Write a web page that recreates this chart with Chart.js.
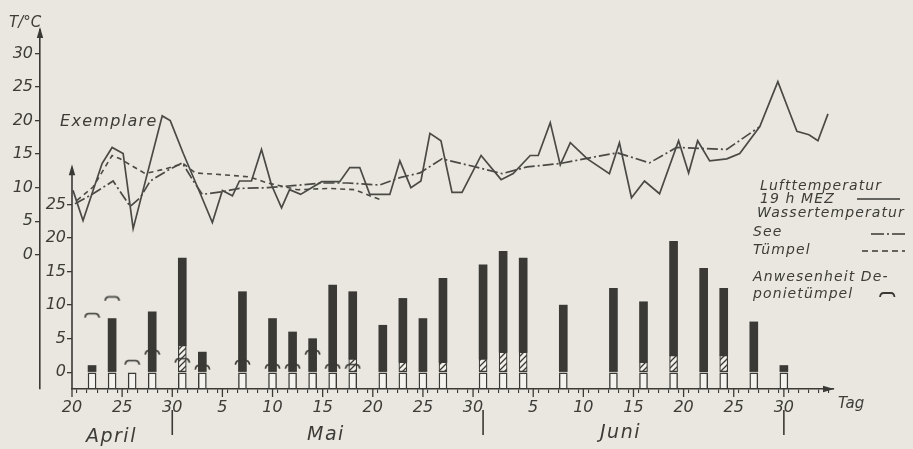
<!DOCTYPE html>
<html><head><meta charset="utf-8">
<script src="https://cdn.jsdelivr.net/npm/chart.js@4/dist/chart.umd.min.js"></script>
<style>
html,body{margin:0;padding:0;background:#e9e7df;}
#wrap{position:relative;width:913px;height:449px;overflow:hidden;background:#e9e7df;}
#c{position:absolute;left:0;top:0;}
#ov{position:absolute;left:0;top:0;pointer-events:none;}
.t{position:absolute;font-family:'DejaVu Sans',sans-serif;font-style:italic;color:#3d3c38;white-space:nowrap;line-height:1;}
.lg{font-size:14px;letter-spacing:1.1px;}
</style></head><body>
<div id="wrap">
<canvas id="c" width="913" height="449"></canvas>
<svg id="ov" width="913" height="449"></svg>
<div class="t" style="left:9px;top:15px;font-size:15px;">T/°C</div>
<div class="t" style="left:60px;top:113px;font-size:16px;letter-spacing:1.3px;">Exemplare</div>
<div class="t" style="left:838px;top:396px;font-size:15px;">Tag</div>
<div class="t" style="left:86px;top:426px;font-size:19px;letter-spacing:1.5px;">April</div>
<div class="t" style="left:307px;top:424px;font-size:19px;letter-spacing:1.5px;">Mai</div>
<div class="t" style="left:600px;top:422px;font-size:19px;letter-spacing:1.5px;">Juni</div>
<div class="t lg" style="left:760px;top:178px;">Lufttemperatur</div>
<div class="t lg" style="left:760px;top:191px;">19 h MEZ</div>
<div class="t lg" style="left:757px;top:205px;">Wassertemperatur</div>
<div class="t lg" style="left:753px;top:224px;">See</div>
<div class="t lg" style="left:753px;top:242px;">Tümpel</div>
<div class="t lg" style="left:753px;top:269px;">Anwesenheit De-</div>
<div class="t lg" style="left:753px;top:286px;">ponietümpel</div>
</div>
<script>
// ---- data (day 0 = 20 April) ----
const tickDays   = [0, 5, 10, 15, 20, 25, 30, 35, 40, 46, 51, 56, 61, 66, 71];
const tickLabels = ['20','25','30','5','10','15','20','25','30','5','10','15','20','25','30'];
const monthEnds  = [10, 41, 71];
const tempTicks  = [0, 5, 10, 15, 20, 25, 30];
const exTicks    = [0, 5, 10, 15, 20, 25];

// Lufttemperatur 19 h MEZ
const airDays  = [0.1,1.1,3.0,4.0,5.1,6.1,9.0,9.8,11.1,12.8,14.0,15.0,16.0,16.7,17.9,18.9,19.9,20.9,21.7,22.8,23.9,24.9,26.7,27.7,28.7,29.7,31.7,32.7,33.8,34.8,35.7,36.8,37.9,38.9,40.8,42.8,44.0,45.7,46.5,47.7,48.7,49.7,51.4,53.6,54.6,55.8,57.1,58.6,60.5,61.5,62.4,63.6,65.3,66.6,68.6,70.4,71.5,72.3,73.5,74.4,75.4];
const airTemps = [9.6,5.1,13.6,16.0,15.1,3.9,20.7,20.0,15.1,9.1,4.8,9.6,8.8,11.0,11.0,15.7,10.4,7.0,9.7,9.0,10.0,10.9,10.9,13.0,13.0,9.0,9.0,14.0,10.0,11.0,18.1,17.0,9.3,9.3,14.8,11.2,12.1,14.8,14.8,19.7,13.4,16.7,14.3,12.1,16.7,8.5,11.0,9.1,17.0,12.2,17.0,14.0,14.3,15.1,19.1,25.8,21.5,18.4,17.9,17.0,21.0];

// Wassertemperatur See
const seeDays  = [0.3,2.1,4.1,5.8,6.8,7.8,9.8,11.0,12.1,13.0,15.0,16.7,19.5,22.0,24.9,27.5,30.7,32.7,34.7,36.9,39.4,42.9,45.4,48.7,51.8,54.4,57.6,60.3,65.3,68.6];
const seeTemps = [7.6,9.1,11.0,7.2,8.5,11.0,12.8,13.7,11.0,9.0,9.4,9.9,10.0,10.3,10.7,10.7,10.4,11.5,12.2,14.3,13.4,12.1,13.1,13.6,14.5,15.2,13.7,16.0,15.7,19.1];

// Wassertemperatur Tümpel
const tuempelDays  = [0.5,2.1,4.0,4.8,7.3,9.3,11.1,12.3,15.3,17.7,19.5,22.5,25.7,28.2,29.7,31.0];
const tuempelTemps = [8.1,10.1,14.8,14.3,12.1,12.8,13.6,12.2,11.9,11.6,10.7,9.7,9.9,9.7,8.8,8.1];

// Exemplare (bars)
const barDays   = [2,4,6,8,11,13,17,20,22,24,26,28,31,33,35,37,41,43,45,49,54,57,60,63,65,68,71];
const barValues = [1,8,0,9,17,3,12,8,6,5,13,12,7,11,8,14,16,18,17,10,12.5,10.5,19.5,15.5,12.5,7.5,1];
const hatchTops = [0,0,0,0,4,0,0,0,0,0,0,2,0,1.5,0,1.5,2,3,3,0,0,1.5,2.5,0,2.5,0,0];

// Anwesenheit Deponietümpel
const markerDays   = [2,4,6,8,11,13,17,20,22,24,26,28];
const markerValues = [8.5,11,1.5,3,1.8,0.8,1.5,0.9,0.9,3,0.9,0.9];

// ---- scale ranges ----
const TEMP_MIN = -20, TEMP_MAX = 33.5;
const EX_MIN = -2.5, EX_MAX = 51, EX_ARROW = 31;
const DAY_MIN = 0, DAY_MAX = 76;

const INK = '#3a3935';
const LINE = '#4a4945';
const FONT = {family:"'DejaVu Sans', sans-serif", size:16, style:'italic'};

function makeHatch(){
  const c = document.createElement('canvas'); c.width = 6; c.height = 6;
  const g = c.getContext('2d');
  g.fillStyle = '#f2f0e9'; g.fillRect(0,0,6,6);
  g.strokeStyle = INK; g.lineWidth = 1.3;
  g.beginPath();
  g.moveTo(0,6); g.lineTo(6,0);
  g.moveTo(-3,3); g.lineTo(3,-3);
  g.moveTo(3,9); g.lineTo(9,3);
  g.stroke();
  return g.createPattern(c,'repeat');
}
function makeMarker(){
  const c = document.createElement('canvas'); c.width = 17; c.height = 6;
  const g = c.getContext('2d');
  g.strokeStyle = INK; g.lineWidth = 1.7; g.lineCap = 'round'; g.lineJoin = 'round';
  g.beginPath(); g.moveTo(1.5,5); g.quadraticCurveTo(2,1.5,5,1.5); g.lineTo(12,1.5); g.quadraticCurveTo(15,1.5,15.5,5); g.stroke();
  return c;
}
const hatch = makeHatch();
const marker = makeMarker();

const whiteBoxes = barDays.map(d => ({x:d, y:[EX_MIN, 0]}));
const hatchBars = [];
const blackBars = [];
barDays.forEach((d,i) => {
  if (hatchTops[i] > 0) hatchBars.push({x:d, y:[0, hatchTops[i]]});
  if (barValues[i] > hatchTops[i]) blackBars.push({x:d, y:[hatchTops[i], barValues[i]]});
});

function arrow(ctx, x, y, dir){
  ctx.beginPath();
  if (dir === 'up'){ ctx.moveTo(x, y); ctx.lineTo(x-3.2, y+11); ctx.lineTo(x+3.2, y+11); }
  else { ctx.moveTo(x, y); ctx.lineTo(x-11, y-3.2); ctx.lineTo(x-11, y+3.2); }
  ctx.closePath(); ctx.fill();
}

const decor = {
  id:'decor',
  afterDraw(chart){
    const {ctx, chartArea:a, scales} = chart;
    const x = scales.x, yT = scales.yT, yE = scales.yE;
    ctx.save();
    ctx.strokeStyle = INK; ctx.fillStyle = INK; ctx.lineWidth = 1.6;
    const top = yE.getPixelForValue(EX_ARROW);
    ctx.beginPath(); ctx.moveTo(a.left, a.bottom); ctx.lineTo(a.left, top+4); ctx.stroke();
    arrow(ctx, a.left, top, 'up');
    arrow(ctx, yT.right, a.top-3, 'up');
    arrow(ctx, a.right, a.bottom, 'right');
    ctx.lineWidth = 1.3;
    tickDays.forEach(d => { const p = x.getPixelForValue(d); ctx.beginPath(); ctx.moveTo(p, a.bottom); ctx.lineTo(p, a.bottom+8); ctx.stroke(); });
    ctx.lineWidth = 1.6;
    monthEnds.forEach(d => { const p = x.getPixelForValue(d); ctx.beginPath(); ctx.moveTo(p, a.bottom+21); ctx.lineTo(p, a.bottom+46); ctx.stroke(); });
    ctx.restore();
  }
};

new Chart(document.getElementById('c'), {
  type:'bar',
  data:{ datasets:[
    {type:'line', label:'Lufttemperatur 19 h MEZ', yAxisID:'yT', data: airDays.map((d,i)=>({x:d,y:airTemps[i]})), borderColor:LINE, borderWidth:1.7, pointRadius:0, tension:0, fill:false, order:1},
    {type:'line', label:'Wassertemperatur See', yAxisID:'yT', data: seeDays.map((d,i)=>({x:d,y:seeTemps[i]})), borderColor:LINE, borderWidth:1.7, borderDash:[11,3,2,3], pointRadius:0, tension:0, fill:false, order:1},
    {type:'line', label:'Wassertemperatur Tümpel', yAxisID:'yT', data: tuempelDays.map((d,i)=>({x:d,y:tuempelTemps[i]})), borderColor:LINE, borderWidth:1.6, borderDash:[5,4], pointRadius:0, tension:0, fill:false, order:1},
    {type:'line', label:'Anwesenheit Deponietümpel', yAxisID:'yE', data: markerDays.map((d,i)=>({x:d,y:markerValues[i]})), showLine:false, pointStyle:marker, pointRadius:8, order:0},
    {label:'Exemplare (Hauptteil)', yAxisID:'yE', data: blackBars, backgroundColor:INK, borderWidth:0, barThickness:8, grouped:false, order:4},
    {label:'Exemplare (schraffiert)', yAxisID:'yE', data: hatchBars, backgroundColor:hatch, borderColor:INK, borderWidth:1.2, borderSkipped:false, barThickness:8, grouped:false, order:3},
    {label:'Probetag', yAxisID:'yE', data: whiteBoxes, backgroundColor:'#f4f2ec', borderColor:INK, borderWidth:1.4, borderSkipped:false, barThickness:8, grouped:false, order:3}
  ]},
  options:{
    responsive:false, animation:false, devicePixelRatio:1,
    layout:{padding:{top:30, right:79, left:0, bottom:0}},
    plugins:{legend:{display:false}, tooltip:{enabled:false}},
    scales:{
      x:{type:'linear', min:DAY_MIN, max:DAY_MAX, offset:false,
         afterBuildTicks:s=>{ const t=[]; for(let d=DAY_MIN; d<DAY_MAX; d++) t.push({value:d}); s.ticks=t; },
         afterFit:s=>{ s.height = 60; },
         grid:{drawOnChartArea:false, drawTicks:true, tickLength:4, color:INK, lineWidth:1.1},
         border:{display:true, color:INK, width:1.6},
         ticks:{autoSkip:false, maxRotation:0, padding:5, color:'#3d3c38', font:FONT,
                callback:v=>{ const k = tickDays.indexOf(v); return k>=0 ? tickLabels[k] : ''; }}},
      yT:{type:'linear', position:'left', weight:1, min:TEMP_MIN, max:TEMP_MAX,
         afterBuildTicks:s=>{ s.ticks = tempTicks.map(v=>({value:v})); },
         afterFit:s=>{ s.width = 40; },
         grid:{drawOnChartArea:false, tickLength:5, color:INK, lineWidth:1.3},
         border:{display:true, color:INK, width:1.6},
         ticks:{padding:2, color:'#3d3c38', font:FONT}},
      yE:{type:'linear', position:'left', weight:0, min:EX_MIN, max:EX_MAX,
         afterBuildTicks:s=>{ s.ticks = exTicks.map(v=>({value:v})); },
         afterFit:s=>{ s.width = 32; },
         grid:{drawOnChartArea:false, tickLength:5, color:INK, lineWidth:1.3},
         border:{display:false},
         ticks:{padding:1, color:'#3d3c38', font:FONT}}
    }
  },
  plugins:[decor]
});

// legend samples
(function(){
  const ns = 'http://www.w3.org/2000/svg';
  const svg = document.getElementById('ov');
  function ln(x1,y1,x2,y2,dash){
    const l = document.createElementNS(ns,'line');
    l.setAttribute('x1',x1); l.setAttribute('y1',y1); l.setAttribute('x2',x2); l.setAttribute('y2',y2);
    l.setAttribute('stroke',INK); l.setAttribute('stroke-width','1.6');
    if (dash) l.setAttribute('stroke-dasharray',dash);
    svg.appendChild(l);
  }
  ln(857,199,900,199);
  ln(871,234,905,234,'13 3 2 3');
  ln(862,251,905,251,'6 4');
  const p = document.createElementNS(ns,'path');
  p.setAttribute('d','M880 297 Q880.5 293 883.5 293 L891 293 Q894 293 894.5 297');
  p.setAttribute('fill','none'); p.setAttribute('stroke',INK); p.setAttribute('stroke-width','1.8');
  svg.appendChild(p);
})();
</script>
</body></html>
